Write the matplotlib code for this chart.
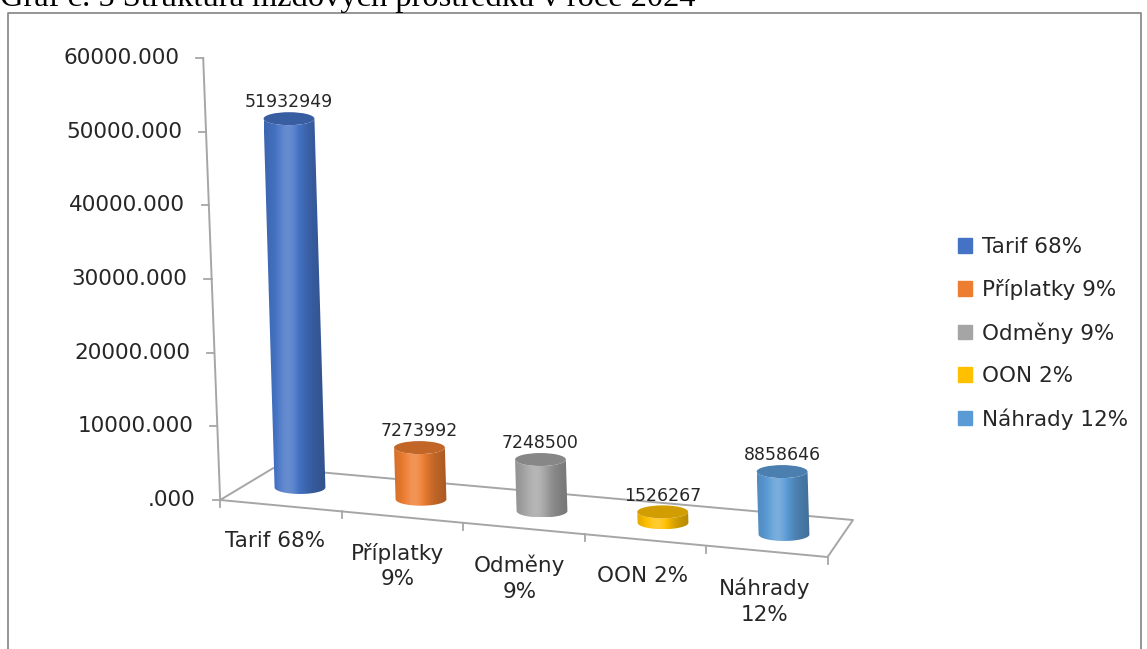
"""3D-style cylinder chart: Struktura mzdových prostředků v roce 2024."""

import numpy as np
import matplotlib
matplotlib.use("Agg")
import matplotlib.pyplot as plt
from matplotlib.patches import Polygon, Ellipse, Rectangle
from matplotlib.colors import to_rgb

# ---- data -------------------------------------------------------------
categories = ["Tarif 68%", "Příplatky\n9%", "Odměny\n9%", "OON 2%", "Náhrady\n12%"]
legend_labels = ["Tarif 68%", "Příplatky 9%", "Odměny 9%", "OON 2%", "Náhrady 12%"]
values = [51932.949, 7273.992, 7248.500, 1526.267, 8858.646]  # thousands
value_labels = ["51932949", "7273992", "7248500", "1526267", "8858646"]
colors = ["#4472C4", "#ED7D31", "#A5A5A5", "#FFC000", "#5B9BD5"]
yticks = [0, 10000, 20000, 30000, 40000, 50000, 60000]
ytick_labels = [".000", "10000.000", "20000.000", "30000.000",
                "40000.000", "50000.000", "60000.000"]
title = "Graf č. 5 Struktura mzdových prostředků v roce 2024"

# ---- layout (pseudo perspective) -------------------------------------
W, H = 1147, 649
PX_X0, PX_DX = 300, 121          # pixel x of category 0, pixels per category
PX_Y0, PX_PER_UNIT = 500, 442 / 60000.0

BASE0, BASE_STEP = 1700, -1595   # floor height under each bar (value units)
DEPTH = 0.964                    # bars sit further back than the value axis
TILT = 1.75e-6                   # x lean per value unit
HALF_W = 0.21                    # cylinder half width (category units)
HALF_E = 880                     # ellipse half height (value units)

AXIS_BOTTOM = (-0.66, 0)
AXIS_TOP = (-0.80, 60000)
FLOOR = [(-0.66, 0), (4.36, -7740), (4.57, -2715), (-0.22, 4340)]
EDGE = "#a6a6a6"
TEXT = "#262626"


def axis_x(v):
    return AXIS_BOTTOM[0] + (AXIS_TOP[0] - AXIS_BOTTOM[0]) * v / AXIS_TOP[1]


def shade_row(color, n=80):
    c = np.array(to_rgb(color))
    t = np.linspace(0, 1, n)
    f = 0.88 + 0.26 * np.exp(-((t - 0.4) / 0.25) ** 2) - 0.16 * t ** 2
    rows = []
    for k in f:
        if k > 1:
            rows.append(c + (1 - c) * (k - 1) * 1.6)
        else:
            rows.append(c * k)
    return np.clip(np.array(rows), 0, 1)[None, :, :]


def draw_cylinder(ax, i, value, color, zo):
    base = BASE0 + BASE_STEP * i
    top = base + value * DEPTH
    cxb = i
    cxt = i - TILT * value
    th = np.linspace(np.pi, 2 * np.pi, 60)
    lower = np.column_stack([cxb + HALF_W * np.cos(th), base + HALF_E * np.sin(th)])
    upper = np.column_stack([cxt + HALF_W * np.cos(th[::-1]), top + HALF_E * np.sin(th[::-1])])
    body = Polygon(np.vstack([lower, upper]), closed=True, facecolor="none",
                   edgecolor="none", zorder=zo)
    ax.add_patch(body)
    x0 = min(cxb, cxt) - HALF_W
    x1 = max(cxb, cxt) + HALF_W
    img = ax.imshow(shade_row(color), extent=[x0, x1, base - HALF_E, top + HALF_E],
                    aspect="auto", interpolation="bilinear", zorder=zo)
    img.set_clip_path(body)
    cap = np.array(to_rgb(color)) * 0.82
    ax.add_patch(Ellipse((cxt, top), 2 * HALF_W, 2 * HALF_E, facecolor=cap,
                         edgecolor="none", zorder=zo + 0.5))
    return cxt, top


fig = plt.figure(figsize=(W / 100, H / 100), dpi=100)
ax = fig.add_axes([0, 0, 1, 1])
ax.axis("off")

# frame and clipped caption
fig.add_artist(plt.Line2D([8 / W, 8 / W, 1141 / W, 1141 / W],
                          [0, 1 - 13 / H, 1 - 13 / H, 0],
                          transform=fig.transFigure, color="#8c8c8c", lw=1.3))
fig.text(0, 1 - 6 / H, title, family="Liberation Serif", fontsize=23.4,
         va="baseline", ha="left", color="black")

# floor
fx, fy = zip(*FLOOR)
ax.plot(list(fx) + [fx[0]], list(fy) + [fy[0]], color=EDGE, lw=1.4, zorder=1)
n = len(categories)
bx = np.linspace(FLOOR[0][0], FLOOR[1][0], n + 1)
by = np.linspace(FLOOR[0][1], FLOOR[1][1], n + 1)
for x, y in zip(bx, by):
    ax.plot([x, x], [y, y - 950], color=EDGE, lw=1.3, zorder=1)

# value axis
ax.plot([AXIS_BOTTOM[0], AXIS_TOP[0]], [AXIS_BOTTOM[1], AXIS_TOP[1]], color=EDGE, lw=1.4, zorder=1)
for v, lab in zip(yticks, ytick_labels):
    ax.plot([axis_x(v) - 0.06, axis_x(v)], [v, v], color=EDGE, lw=1.3, zorder=1)
    ax.text(axis_x(v) - 0.2, v, lab, ha="right", va="center", fontsize=15.5, color=TEXT)

# cylinders and value labels
for i, (v, c, lab) in enumerate(zip(values, colors, value_labels)):
    cx, top = draw_cylinder(ax, i, v, c, 3 + i)
    ax.text(cx, top + HALF_E + 100, lab, ha="center", va="bottom", fontsize=12.5,
            color=TEXT, zorder=10)

# category labels
for i, lab in enumerate(categories):
    ax.text(-0.207 + 1.012 * i, -4208 - 1595 * i, lab, ha="center", va="top",
            fontsize=15.5, color=TEXT, linespacing=1.35)

handles = [Rectangle((0, 0), 1, 1, color=c) for c in colors]
ax.legend(handles, legend_labels, loc="upper left",
          bbox_to_anchor=(958 / W, 1 - 237 / H), bbox_transform=fig.transFigure,
          frameon=False, fontsize=15.5, handlelength=0.65, handleheight=0.65,
          handletextpad=0.45, labelspacing=1.03, borderpad=0, borderaxespad=0,
          labelcolor=TEXT)

ax.set_xlim(-PX_X0 / PX_DX, (W - PX_X0) / PX_DX)
ax.set_ylim((PX_Y0 - H) / PX_PER_UNIT, PX_Y0 / PX_PER_UNIT)

fig.savefig("out.png", dpi=100)
